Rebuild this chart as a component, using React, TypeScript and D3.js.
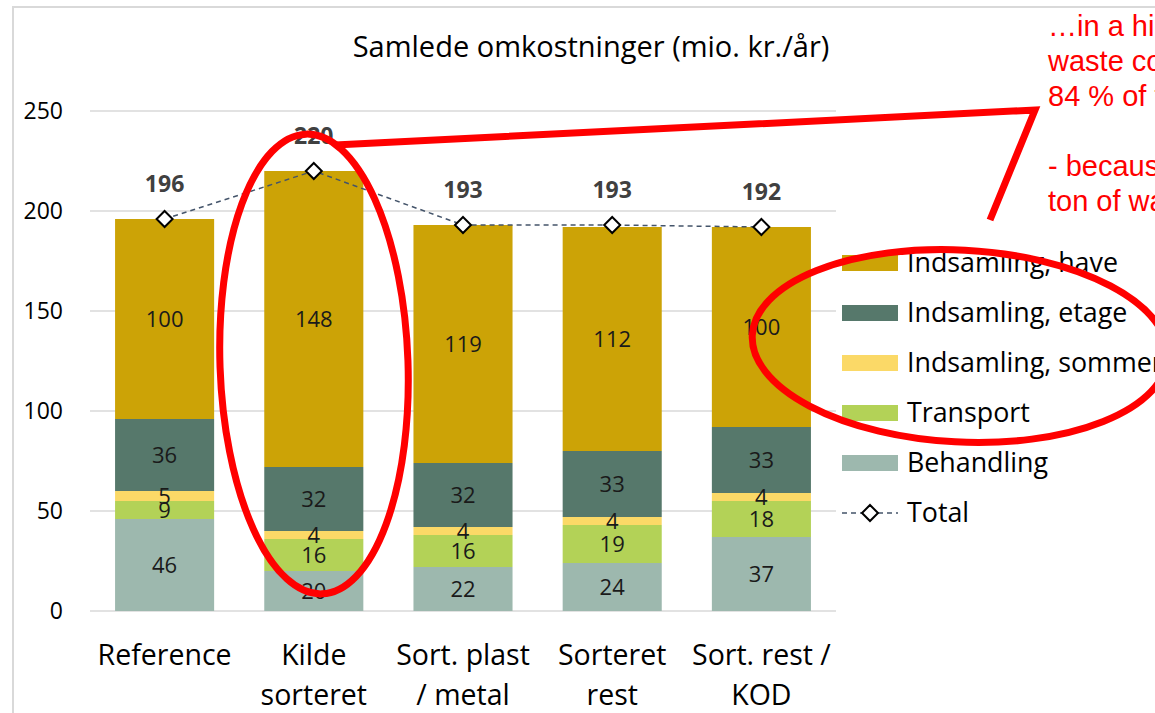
import React from "react";
import * as d3 from "d3";

const categories = [["Reference"], ["Kilde", "sorteret"], ["Sort. plast", "/ metal"], ["Sorteret", "rest"], ["Sort. rest /", "KOD"]];
const seriesNames = ["Behandling", "Transport", "Indsamling, sommer", "Indsamling, etage", "Indsamling, have"];
const behandling = [46, 20, 22, 24, 37];
const transport = [9, 16, 16, 19, 18];
const sommer = [5, 4, 4, 4, 4];
const etage = [36, 32, 32, 33, 33];
const have = [100, 148, 119, 112, 100];
const totals = [196, 220, 193, 193, 192];
const yTicks = [0, 50, 100, 150, 200, 250];
const colors = ["#9DB8AE", "#B3D257", "#FBD967", "#56786B", "#CCA306"];
const title = "Samlede omkostninger (mio. kr./år)";
const noteLines = ["…in a high-rise area", "waste collection costs", "84 % of total costs", "- because of the cost per", "ton of waste"];
const noteY = [36, 71, 106, 176, 211];

const FONT = "'Open Sans', Lato, sans-serif";

export default function App() {
  const W = 1155, H = 713;
  const left = 90, right = 836, top = 111, bottom = 611;
  const x = d3.scaleBand<number>().domain(d3.range(categories.length)).range([left, right]).paddingInner(0.336).paddingOuter(0.168);
  const y = d3.scaleLinear().domain([0, 250]).range([bottom, top]);
  const data = [behandling, transport, sommer, etage, have];
  const rows = categories.map((_, i) => {
    const o: any = { i };
    seriesNames.forEach((s, k) => (o[s] = data[k][i]));
    return o;
  });
  const stack = d3.stack<any>().keys(seriesNames)(rows);
  const cx = (i: number) => (x(i) as number) + x.bandwidth() / 2;
  const lineGen = d3.line<number>().x((_, i) => cx(i)).y((d) => y(d));
  const legendOrder = [4, 3, 2, 1, 0];
  const diamond = (px: number, py: number, r: number) => `M${px},${py - r}L${px + r},${py}L${px},${py + r}L${px - r},${py}Z`;

  return (
    <svg width={W} height={H} style={{ position: "absolute", left: 0, top: 0, background: "#fff" }} fontFamily={FONT}>
      <rect x={13} y={7} width={1200} height={800} fill="#fff" stroke="#D9D9D9" strokeWidth={2} />
      <text x={591} y={57} textAnchor="middle" fontSize={29} fill="#000">{title}</text>
      {yTicks.map((t) => (
        <g key={t}>
          <line x1={left} x2={right} y1={y(t)} y2={y(t)} stroke="#D9D9D9" strokeWidth={1.5} />
          <text x={63} y={y(t) + 8} textAnchor="end" fontSize={23} fill="#000">{t}</text>
        </g>
      ))}
      {stack.map((layer, k) => (
        <g key={k}>
          {layer.map((d, i) => (
            <rect key={i} x={x(i)} width={x.bandwidth()} y={y(d[1])} height={y(d[0]) - y(d[1])} fill={colors[k]} />
          ))}
        </g>
      ))}
      {stack.map((layer, k) => (
        <g key={"l" + k}>
          {layer.map((d, i) => (
            <text key={i} x={cx(i)} y={(y(d[0]) + y(d[1])) / 2 + 8} textAnchor="middle" fontSize={22} fill="#1a1a1a">
              {data[k][i]}
            </text>
          ))}
        </g>
      ))}
      <path d={lineGen(totals) || ""} fill="none" stroke="#44546A" strokeWidth={1.5} strokeDasharray="5,4" />
      {totals.map((t, i) => (
        <g key={i}>
          <path d={diamond(cx(i), y(t), 8)} fill="#fff" stroke="#000" strokeWidth={2} />
          <text x={cx(i)} y={y(t) - 27} textAnchor="middle" fontSize={23} fontWeight="bold" fill="#404040">{t}</text>
        </g>
      ))}
      {categories.map((lines, i) => (
        <text key={i} x={cx(i)} textAnchor="middle" fontSize={28.5} fill="#000">
          {lines.map((l, j) => (
            <tspan key={j} x={cx(i)} y={665 + j * 40}>{l}</tspan>
          ))}
        </text>
      ))}
      {legendOrder.map((k, j) => (
        <g key={k} transform={`translate(842,${263 + j * 50})`}>
          <rect x={0} y={-8} width={56} height={16} fill={colors[k]} />
          <text x={65} y={9} fontSize={26.8} fill="#000">{seriesNames[k]}</text>
        </g>
      ))}
      <g transform="translate(842,513)">
        <line x1={0} x2={56} y1={0} y2={0} stroke="#44546A" strokeWidth={1.5} strokeDasharray="5,4" />
        <path d={diamond(28, 0, 8)} fill="#fff" stroke="#000" strokeWidth={2} />
        <text x={65} y={9} fontSize={26.8} fill="#000">Total</text>
      </g>
      <g fill="none" stroke="#FF0000" strokeWidth={7}>
        <ellipse cx={314} cy={364} rx={94} ry={230} transform="rotate(-2 314 364)" />
        <ellipse cx={960} cy={346} rx={208} ry={96} transform="rotate(3 960 346)" />
        <polyline points="335,145 1035,110 990,220" strokeLinejoin="miter" />
      </g>
      {noteLines.map((l, j) => (
        <text key={j} x={1048} y={noteY[j]} fontSize={29} fill="#FF0000" fontFamily="'Liberation Sans', Arial, sans-serif">{l}</text>
      ))}
    </svg>
  );
}
